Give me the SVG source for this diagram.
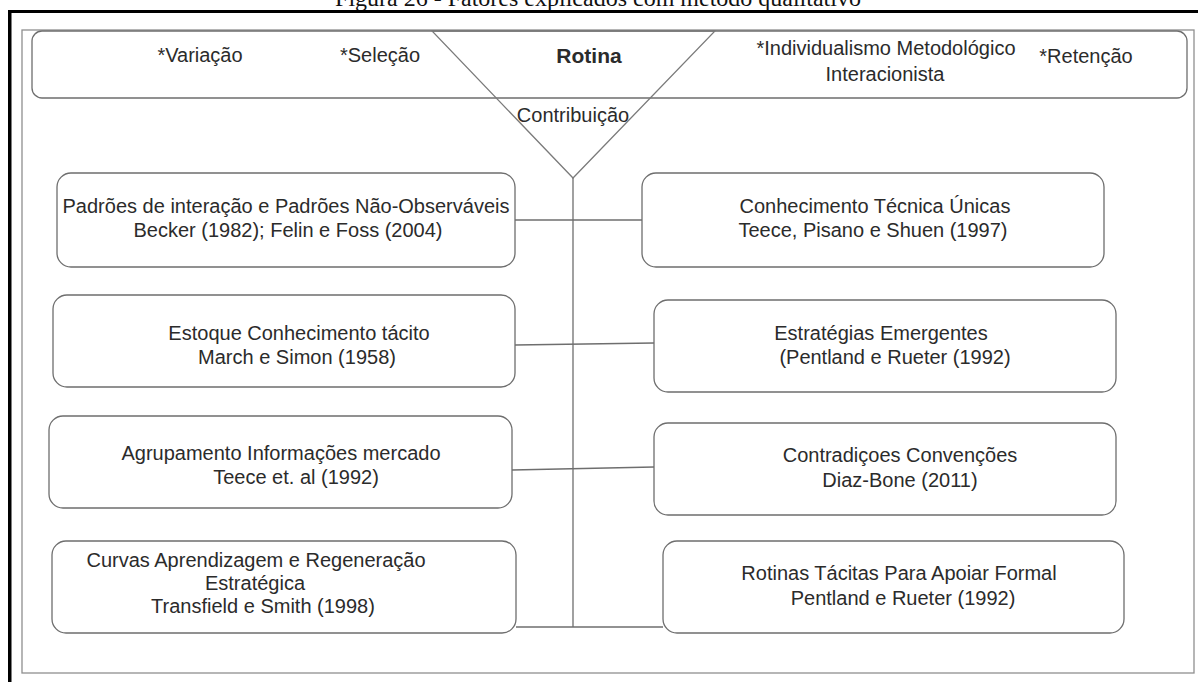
<svg xmlns="http://www.w3.org/2000/svg" width="1198" height="682" viewBox="0 0 1198 682">
  <style>
    .cap { font-family: "Liberation Serif", "Times New Roman", serif; font-size: 24px; fill: #111; }
    .t { font-family: "Liberation Sans", Arial, sans-serif; font-size: 20px; fill: #2b2b2b; text-anchor: middle; }
    .b { font-weight: bold; font-size: 21px; }
    .box { fill: #fff; stroke: #6e6e6e; stroke-width: 1.3; }
    .frame { fill: none; stroke: #8f8f8f; stroke-width: 1.3; }
    .link { fill: none; stroke: #6e6e6e; stroke-width: 1.3; }
  </style>
  <rect width="1198" height="682" fill="#fff"/>

  <!-- caption, clipped by the page top -->
  <text class="cap" x="598" y="6" text-anchor="middle">Figura 26 - Fatores explicados com método qualitativo</text>

  <!-- page border -->
  <rect x="8" y="10" width="1190" height="3" fill="#000"/>
  <rect x="8" y="10" width="3.5" height="672" fill="#000"/>
  <rect class="frame" x="22" y="30" width="1172" height="643"/>

  <!-- header band -->
  <g id="header">
    <rect class="box" x="32" y="31" width="1155" height="67" rx="10"/>
    <text class="t" x="200" y="62">*Variação</text>
    <text class="t" x="380" y="62">*Seleção</text>
    <text class="t" x="886" y="55">*Individualismo Metodológico</text>
    <text class="t" x="885" y="81">Interacionista</text>
    <text class="t" x="1086" y="63">*Retenção</text>
  </g>

  <!-- funnel -->
  <g id="funnel">
    <polygon points="432,31 715,31 573,178" fill="none" stroke="#7a7a7a" stroke-width="1.3"/>
    <text class="t b" x="589" y="63">Rotina</text>
    <text class="t" x="573" y="122">Contribuição</text>
  </g>

  <!-- connectors -->
  <g id="connectors">
    <line class="link" x1="573" y1="178" x2="573" y2="627"/>
    <line class="link" x1="515" y1="220" x2="642" y2="220"/>
    <line class="link" x1="515" y1="345" x2="654" y2="343"/>
    <line class="link" x1="512" y1="470" x2="654" y2="467"/>
    <line class="link" x1="516" y1="627" x2="663" y2="627"/>
  </g>

  <g id="n-padroes">
    <rect class="box" x="57" y="173" width="458" height="94" rx="14"/>
    <text class="t" x="286" y="213">Padrões de interação e Padrões Não-Observáveis</text>
    <text class="t" x="288" y="237">Becker (1982); Felin e Foss (2004)</text>
  </g>
  <g id="n-conhecimento">
    <rect class="box" x="642" y="173" width="462" height="94" rx="14"/>
    <text class="t" x="875" y="213">Conhecimento Técnica Únicas</text>
    <text class="t" x="873" y="237">Teece, Pisano e Shuen (1997)</text>
  </g>

  <g id="n-estoque">
    <rect class="box" x="53" y="295" width="462" height="92" rx="14"/>
    <text class="t" x="299" y="340">Estoque Conhecimento tácito</text>
    <text class="t" x="297" y="364">March e Simon (1958)</text>
  </g>
  <g id="n-estrategias">
    <rect class="box" x="654" y="300" width="462" height="92" rx="14"/>
    <text class="t" x="881" y="340">Estratégias Emergentes</text>
    <text class="t" x="895" y="364">(Pentland e Rueter (1992)</text>
  </g>

  <g id="n-agrupamento">
    <rect class="box" x="49" y="416" width="463" height="92" rx="14"/>
    <text class="t" x="281" y="460">Agrupamento Informações mercado</text>
    <text class="t" x="296" y="484">Teece et. al (1992)</text>
  </g>
  <g id="n-contradicoes">
    <rect class="box" x="654" y="423" width="462" height="92" rx="14"/>
    <text class="t" x="900" y="462">Contradiçoes Convenções</text>
    <text class="t" x="900" y="487">Diaz-Bone (2011)</text>
  </g>

  <g id="n-curvas">
    <rect class="box" x="52" y="541" width="464" height="92" rx="14"/>
    <text class="t" x="256" y="567">Curvas Aprendizagem e Regeneração</text>
    <text class="t" x="255" y="590">Estratégica</text>
    <text class="t" x="263" y="613">Transfield e Smith (1998)</text>
  </g>
  <g id="n-rotinas">
    <rect class="box" x="663" y="541" width="461" height="92" rx="14"/>
    <text class="t" x="899" y="580">Rotinas Tácitas Para Apoiar Formal</text>
    <text class="t" x="903" y="605">Pentland e Rueter (1992)</text>
  </g>
</svg>
